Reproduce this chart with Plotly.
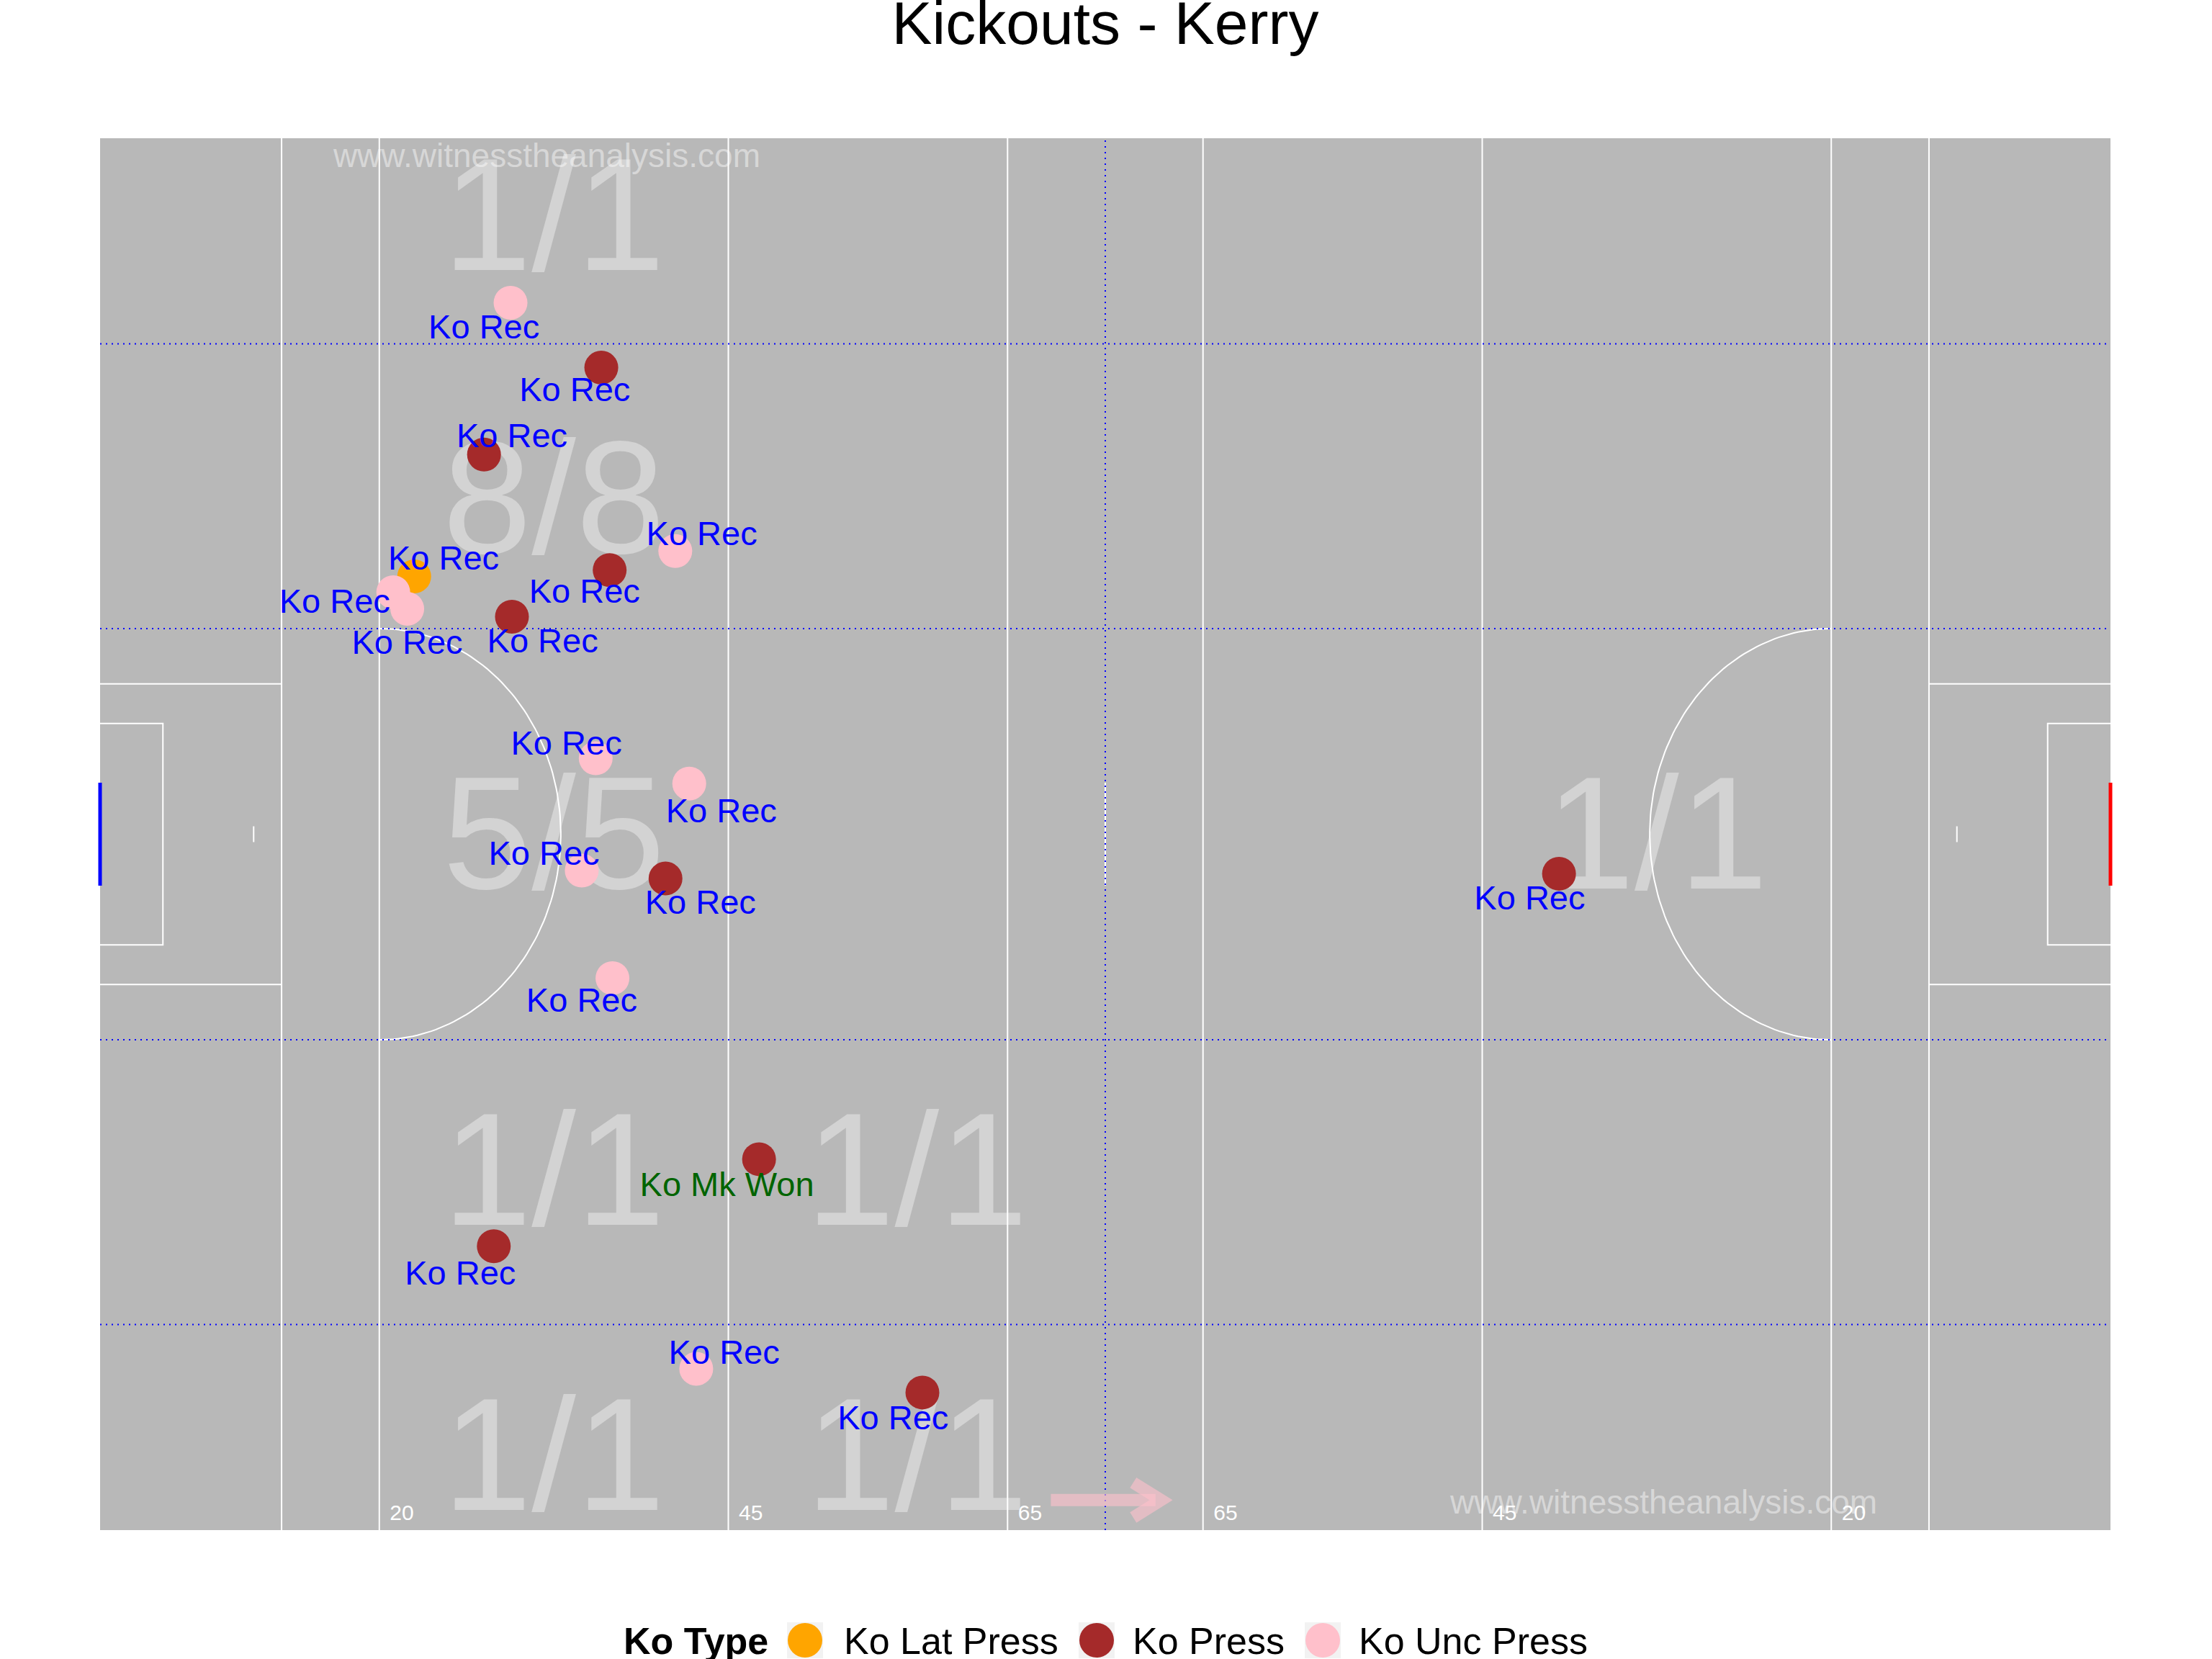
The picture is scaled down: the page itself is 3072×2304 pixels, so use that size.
import numpy as np
import plotly.graph_objects as go

# ---------------- data ----------------
PITCH_LENGTH = 144
PITCH_WIDTH = 88

ko_x = [29.4, 35.9, 27.5, 41.2, 36.5, 22.5, 21.0, 22.0, 29.5, 35.5,
        42.2, 34.5, 40.5, 36.7, 47.2, 28.2, 42.7, 58.9, 104.5]
ko_y = [77.6, 73.5, 68.0, 61.9, 60.7, 60.3, 59.3, 58.25, 57.75, 48.8,
        47.2, 41.7, 41.2, 34.9, 23.45, 17.95, 10.2, 8.7, 41.5]
ko_type = ["Ko Unc Press", "Ko Press", "Ko Press", "Ko Unc Press", "Ko Press",
           "Ko Lat Press", "Ko Unc Press", "Ko Unc Press", "Ko Press", "Ko Unc Press",
           "Ko Unc Press", "Ko Unc Press", "Ko Press", "Ko Unc Press", "Ko Press",
           "Ko Press", "Ko Unc Press", "Ko Press", "Ko Press"]
ko_outcome = ["Ko Rec"] * 14 + ["Ko Mk Won"] + ["Ko Rec"] * 4
label_x = [27.5, 34.0, 29.5, 43.1, 34.7, 24.6, 16.8, 22.0, 31.7, 33.4,
           44.5, 31.8, 43.0, 34.5, 44.9, 25.8, 44.7, 56.8, 102.4]
label_y = [75.9, 71.9, 69.0, 62.8, 59.15, 61.25, 58.55, 55.95, 56.05, 49.55,
           45.3, 42.6, 39.5, 33.3, 21.65, 16.05, 11.07, 6.9, 39.8]

zone_x = [32.5, 32.5, 32.5, 32.5, 58.5, 32.5, 58.5, 111.5]
zone_y = [82.2, 64.3, 43.1, 21.85, 21.85, 3.8, 3.8, 43.1]
zone_text = ["1/1", "8/8", "5/5", "1/1", "1/1", "1/1", "1/1", "1/1"]

dist_line_x = [20, 45, 65, 79, 99, 124]
dist_labels = ["20", "45", "65", "65", "45", "20"]

type_order = ["Ko Lat Press", "Ko Press", "Ko Unc Press"]
type_colors = {"Ko Lat Press": "#FFA500", "Ko Press": "#A52A2A", "Ko Unc Press": "#FFC0CB"}
outcome_colors = {"Ko Rec": "#0000FF", "Ko Mk Won": "#006400"}

watermark_x = [32.0, 112.0]
watermark_y = [86.7, 1.55]

# ---------------- layout constants ----------------
W, H = 3072, 2304
ML, MR, MT, MB = 139, 141, 192, 179
PW, PH = W - ML - MR, H - MT - MB
FONT = "Liberation Sans, Arial, Helvetica, sans-serif"
GRASS = "#B8B8B8"


def px2paper_x(px):
    return (px - ML) / PW


def px2paper_y(py):
    return (H - MB - py) / PH


fig = go.Figure()

# zone summary text (drawn first, under everything)
fig.add_trace(go.Scatter(x=zone_x, y=zone_y, mode="text", text=zone_text,
                         textfont=dict(family=FONT, size=222, color="#D3D3D3"),
                         hoverinfo="skip", showlegend=False))

# pitch white lines
L, Wd, mid = PITCH_LENGTH, PITCH_WIDTH, PITCH_WIDTH / 2
segs = []
for xv in [13, 20, 45, 65, L - 65, L - 45, L - 20, L - 13]:
    segs.append(([xv, xv], [0, Wd]))
for side in [0, 1]:
    def fx(v):
        return v if side == 0 else L - v
    segs.append(([fx(0), fx(13)], [mid - 9.5, mid - 9.5]))
    segs.append(([fx(0), fx(13)], [mid + 9.5, mid + 9.5]))
    segs.append(([fx(0), fx(4.5), fx(4.5), fx(0)], [mid - 7, mid - 7, mid + 7, mid + 7]))
    segs.append(([fx(11), fx(11)], [mid - 0.5, mid + 0.5]))
segs.append(([L / 2, L / 2], [mid - 3.25, mid + 3.25]))
lx, ly = [], []
for xs, ys in segs:
    lx += xs + [None]
    ly += ys + [None]
t = np.linspace(-np.pi / 2, np.pi / 2, 120)
lx += list(20 + 13 * np.cos(t)) + [None] + list(L - 20 - 13 * np.cos(t)) + [None]
ly += list(mid + 13 * np.sin(t)) + [None] + list(mid + 13 * np.sin(t)) + [None]
fig.add_trace(go.Scatter(x=lx, y=ly, mode="lines", line=dict(color="white", width=2),
                         hoverinfo="skip", showlegend=False))

# blue dotted zone lines
dx, dy = [], []
for yv in [13, 31, 57, 75]:
    dx += [0, L, None]
    dy += [yv, yv, None]
dx += [L / 2, L / 2, None]
dy += [0, Wd, None]
fig.add_trace(go.Scatter(x=dx, y=dy, mode="lines",
                         line=dict(color="#0000FF", width=2, dash="2px,6px"),
                         hoverinfo="skip", showlegend=False))

# direction arrow
arrow_start, arrow_end, arrow_y = 68.1, 76.0, 1.9
arrow_col = "rgba(255,192,203,0.6)"
fig.add_trace(go.Scatter(x=[arrow_start, arrow_end - 0.4], y=[arrow_y, arrow_y], mode="lines",
                         line=dict(color=arrow_col, width=17),
                         hoverinfo="skip", showlegend=False))
fig.add_trace(go.Scatter(x=[arrow_end - 2.0, arrow_end, arrow_end - 2.0],
                         y=[arrow_y + 1.1, arrow_y, arrow_y - 1.1], mode="lines",
                         line=dict(color=arrow_col, width=17),
                         hoverinfo="skip", showlegend=False))

# distance labels
fig.add_trace(go.Scatter(x=[v + 0.75 for v in dist_line_x], y=[1.0] * len(dist_line_x),
                         mode="text", text=dist_labels, textposition="middle right",
                         textfont=dict(family=FONT, size=30, color="white"),
                         hoverinfo="skip", showlegend=False))

# watermarks
fig.add_trace(go.Scatter(x=watermark_x, y=watermark_y, mode="text",
                         text=["www.witnesstheanalysis.com"] * 2,
                         textfont=dict(family=FONT, size=46, color="rgba(255,255,255,0.45)"),
                         hoverinfo="skip", showlegend=False))

# kickout points
for tp in type_order:
    idx = [i for i, v in enumerate(ko_type) if v == tp]
    fig.add_trace(go.Scatter(x=[ko_x[i] for i in idx], y=[ko_y[i] for i in idx],
                             mode="markers", name=tp,
                             marker=dict(size=47, color=type_colors[tp], line=dict(width=0)),
                             showlegend=False, cliponaxis=False))

# outcome labels
fig.add_trace(go.Scatter(x=label_x, y=label_y, mode="text", text=ko_outcome,
                         textfont=dict(family=FONT, size=47,
                                       color=[outcome_colors[o] for o in ko_outcome]),
                         hoverinfo="skip", showlegend=False, cliponaxis=False))

# ---------------- goals (drawn unclipped across the end lines) ----------------
shapes = []
for gx, gcol in [(0.0, "#0000FF"), (1.0, "#FF0000")]:
    shapes.append(dict(type="rect", xref="paper", yref="paper", xsizemode="pixel",
                       xanchor=gx, x0=-2.5, x1=2.5,
                       y0=(mid - 3.25) / Wd, y1=(mid + 3.25) / Wd,
                       fillcolor=gcol, line=dict(width=0), layer="above"))

# ---------------- manual legend ----------------
annotations = []
leg_cy = 2279
annotations.append(dict(x=px2paper_x(864), y=px2paper_y(leg_cy), xref="paper", yref="paper",
                        text="<b>Ko Type</b>", showarrow=False, xanchor="left", yanchor="middle",
                        font=dict(family=FONT, size=52, color="black")))
key_px = [1118, 1523, 1837]
text_px = [1170, 1571, 1885]
for tp, kx, tx in zip(type_order, key_px, text_px):
    shapes.append(dict(type="rect", xref="paper", yref="paper", xsizemode="pixel", ysizemode="pixel",
                       xanchor=px2paper_x(kx), yanchor=px2paper_y(leg_cy - 1),
                       x0=-25, x1=25, y0=-25, y1=25, fillcolor="#F2F2F2", line=dict(width=0)))
    shapes.append(dict(type="circle", xref="paper", yref="paper", xsizemode="pixel", ysizemode="pixel",
                       xanchor=px2paper_x(kx), yanchor=px2paper_y(leg_cy - 1),
                       x0=-24, x1=24, y0=-24, y1=24, fillcolor=type_colors[tp], line=dict(width=0)))
    annotations.append(dict(x=px2paper_x(tx), y=px2paper_y(leg_cy), xref="paper", yref="paper",
                            text=tp, showarrow=False, xanchor="left", yanchor="middle",
                            font=dict(family=FONT, size=52, color="black")))

fig.update_layout(
    width=W, height=H,
    margin=dict(l=ML, r=MR, t=MT, b=MB, pad=0),
    paper_bgcolor="white", plot_bgcolor=GRASS,
    title=dict(text="Kickouts - Kerry", x=0.5, xref="paper", xanchor="center",
               y=1 - 32 / H, yref="container", yanchor="middle",
               font=dict(family=FONT, size=84, color="black")),
    xaxis=dict(range=[0, PITCH_LENGTH], showgrid=False, zeroline=False, showticklabels=False,
               ticks="", showline=False, fixedrange=True),
    yaxis=dict(range=[0, PITCH_WIDTH], showgrid=False, zeroline=False, showticklabels=False,
               ticks="", showline=False, fixedrange=True),
    showlegend=False,
    annotations=annotations,
    shapes=shapes,
)

fig.write_html("out.html")
